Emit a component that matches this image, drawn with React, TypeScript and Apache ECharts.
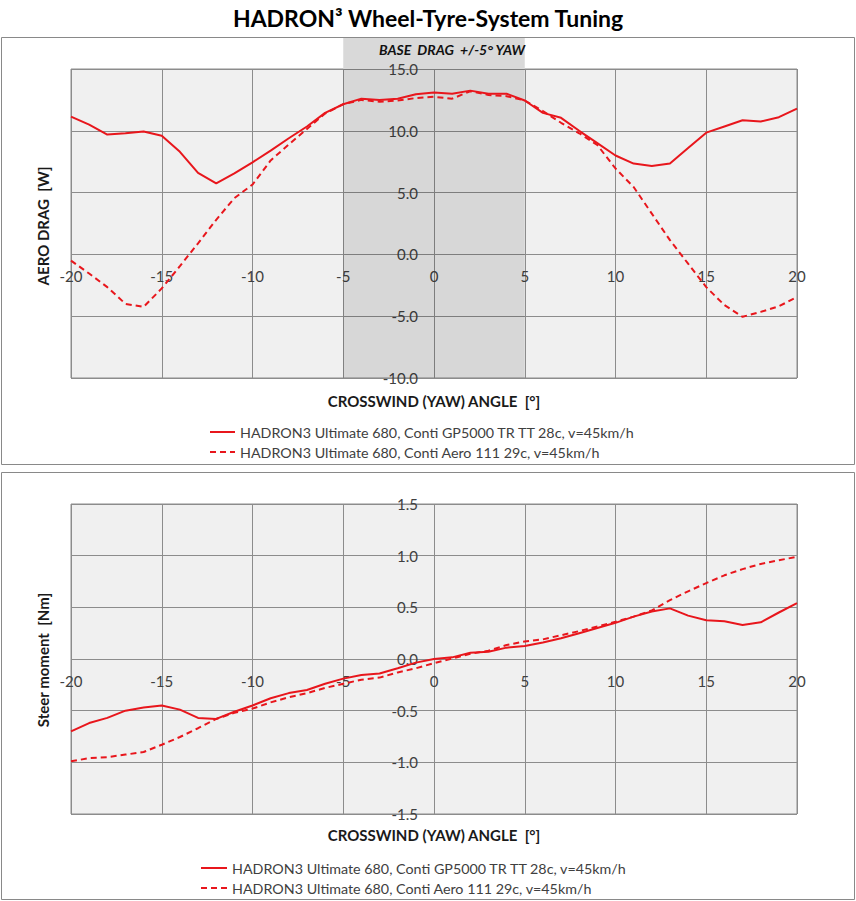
import React, { useEffect, useRef } from "react";
import * as echarts from "echarts";

const yawAngles = [
  -20, -19, -18, -17, -16, -15, -14, -13, -12, -11, -10, -9, -8, -7, -6, -5, -4, -3, -2, -1, 0,
  1, 2, 3, 4, 5, 6, 7, 8, 9, 10, 11, 12, 13, 14, 15, 16, 17, 18, 19, 20,
];

const seriesNames = [
  "HADRON3 Ultimate 680, Conti GP5000 TR TT 28c, v=45km/h",
  "HADRON3 Ultimate 680, Conti Aero 111 29c, v=45km/h",
];

const dragGP5000 = [
  11.15, 10.5, 9.7, 9.8, 9.95, 9.6, 8.3, 6.6, 5.75, 6.55, 7.45, 8.4, 9.4, 10.35, 11.45, 12.15,
  12.6, 12.5, 12.6, 12.95, 13.1, 13.0, 13.25, 13.0, 13.0, 12.45, 11.45, 11.05, 10.0, 9.0, 8.0,
  7.35, 7.15, 7.35, 8.6, 9.85, 10.35, 10.85, 10.75, 11.1, 11.8,
];

const dragAero111 = [
  -0.5, -1.55, -2.65, -4.0, -4.25, -2.75, -0.95, 0.9, 2.8, 4.55, 5.65, 7.6, 8.9, 10.15, 11.4,
  12.15, 12.5, 12.35, 12.45, 12.65, 12.75, 12.6, 13.2, 12.9, 12.8, 12.45, 11.6, 10.65, 9.8, 8.85,
  6.95, 5.45, 3.3, 1.15, -0.75, -2.65, -4.1, -5.05, -4.65, -4.2, -3.45,
];

const steerGP5000 = [
  -0.7, -0.62, -0.57, -0.5, -0.47, -0.45, -0.49, -0.57, -0.58, -0.51, -0.45, -0.38, -0.33, -0.3,
  -0.24, -0.19, -0.155, -0.14, -0.09, -0.035, 0.0, 0.016, 0.06, 0.07, 0.11, 0.125, 0.16, 0.2,
  0.25, 0.3, 0.35, 0.41, 0.46, 0.49, 0.42, 0.375, 0.365, 0.33, 0.355, 0.45, 0.54,
];

const steerAero111 = [
  -0.99, -0.96, -0.95, -0.925, -0.9, -0.83, -0.755, -0.67, -0.58, -0.52, -0.48, -0.42, -0.37,
  -0.33, -0.28, -0.24, -0.2, -0.18, -0.13, -0.09, -0.04, 0.005, 0.05, 0.08, 0.135, 0.17, 0.19,
  0.23, 0.27, 0.315, 0.36, 0.41, 0.47, 0.57, 0.655, 0.735, 0.81, 0.87, 0.92, 0.955, 0.99,
];

const yawAxis = { min: -20, max: 20, interval: 5 };
const dragAxis = { min: -10, max: 15, interval: 5 };
const steerAxis = { min: -1.5, max: 1.5, interval: 0.5 };
const baseBand = [-5, 5];

const FONT = 'Lato, "Noto Sans", sans-serif';
const RED = "#e8161c";
const GRIDLINE = "#8c8c8c";

const pair = (ys: number[]) => yawAngles.map((x, i) => [x, ys[i]]);

export default function App() {
  const ref = useRef<HTMLDivElement>(null);

  useEffect(() => {
    document.body.style.margin = "0";
    const chart = echarts.init(ref.current!, null, { renderer: "svg" });

    const xAxisBase = (gridIndex: number) => ({
      type: "value",
      gridIndex,
      position: "bottom",
      min: yawAxis.min,
      max: yawAxis.max,
      interval: yawAxis.interval,
      axisLine: { show: false, onZero: false },
      axisTick: { show: false },
      axisLabel: { margin: 14, fontSize: 15, color: "#404040", fontFamily: FONT },
      splitLine: { show: true, lineStyle: { color: GRIDLINE, width: 1 } },
    });

    const yAxisBase = (gridIndex: number, ax: any) => ({
      type: "value",
      gridIndex,
      position: "left",
      min: ax.min,
      max: ax.max,
      interval: ax.interval,
      axisLine: { show: false, onZero: false },
      axisTick: { show: false },
      axisLabel: {
        margin: 16,
        fontSize: 15,
        color: "#404040",
        fontFamily: FONT,
        formatter: (v: number) => v.toFixed(1),
      },
      splitLine: { show: true, lineStyle: { color: GRIDLINE, width: 1 } },
    });

    const lineSeries = (name: string, data: number[], idx: number, dashed: boolean, extra: any = {}) => ({
      type: "line",
      name,
      xAxisIndex: idx,
      yAxisIndex: idx,
      data: pair(data),
      symbol: "none",
      showSymbol: false,
      lineStyle: { color: RED, width: 2, type: dashed ? [6, 4] : "solid" },
      itemStyle: { color: RED },
      z: 3,
      ...extra,
    });

    const legendBase = (left: number, top: number, itemWidth: number) => ({
      orient: "vertical",
      left,
      top,
      padding: 0,
      itemWidth,
      itemHeight: 14,
      itemGap: 6,
      data: seriesNames,
      itemStyle: { opacity: 0 },
      textStyle: { fontSize: 14.3, color: "#404040", fontFamily: FONT },
      selectedMode: false,
    });

    const baseOption: any = {
      animation: false,
      backgroundColor: "#ffffff",
      title: {
        text: "HADRON³ Wheel-Tyre-System Tuning",
        left: "center",
        top: 1,
        textStyle: { fontSize: 23, fontWeight: "bold", color: "#000", fontFamily: FONT },
      },
      grid: [
        {
          left: 71, top: 69, width: 726, height: 309, show: true,
          backgroundColor: "#f0f0f0", borderColor: GRIDLINE, borderWidth: 1,
        },
        {
          left: 71, top: 504, width: 726, height: 310, show: true,
          backgroundColor: "#f0f0f0", borderColor: GRIDLINE, borderWidth: 1,
        },
      ],
      xAxis: [xAxisBase(0), xAxisBase(1)],
      yAxis: [yAxisBase(0, dragAxis), yAxisBase(1, steerAxis)],
      legend: [legendBase(209, 425, 25), legendBase(200, 861, 26)],
      series: [
        lineSeries(seriesNames[0], dragGP5000, 0, false, {
          markArea: {
            silent: true,
            itemStyle: { color: "rgba(0,0,0,0.1)" },
            data: [[{ xAxis: baseBand[0] }, { xAxis: baseBand[1] }]],
          },
        }),
        lineSeries(seriesNames[1], dragAero111, 0, true),
        lineSeries(seriesNames[0], steerGP5000, 1, false),
        lineSeries(seriesNames[1], steerAero111, 1, true),
      ],
    };

    chart.setOption(baseOption);

    // Move axes so they cross at zero (x axis on y=0, y axis on x=0)
    const px = (axisIndex: number, v: number) =>
      chart.convertToPixel({ xAxisIndex: axisIndex }, v) as number;
    const py = (axisIndex: number, v: number) =>
      chart.convertToPixel({ yAxisIndex: axisIndex }, v) as number;

    const xOffsets = [0, 1].map((i) => {
      const ax = i === 0 ? dragAxis : steerAxis;
      return py(i, 0) - py(i, ax.min);
    });
    const yOffsets = [0, 1].map((i) => -(px(i, 0) - px(i, yawAxis.min)));

    const bandL = px(0, baseBand[0]);
    const bandR = px(0, baseBand[1]);
    const plotTop = py(0, dragAxis.max);
    const panelTop = 37;

    const nameStyle = {
      fontSize: 15, fontWeight: "bold", fontFamily: FONT, fill: "#1a1a1a",
      align: "center", verticalAlign: "middle",
    };

    chart.setOption({
      xAxis: [{ offset: xOffsets[0] }, { offset: xOffsets[1] }],
      yAxis: [{ offset: yOffsets[0] }, { offset: yOffsets[1] }],
      graphic: [
        {
          type: "rect",
          shape: { x: 1.5, y: 37.5, width: 853, height: 427 },
          style: { fill: "none", stroke: "#898989", lineWidth: 1 },
          silent: true,
        },
        {
          type: "rect",
          shape: { x: 1.5, y: 472.5, width: 853, height: 427 },
          style: { fill: "none", stroke: "#898989", lineWidth: 1 },
          silent: true,
        },
        {
          type: "rect",
          shape: { x: bandL, y: panelTop + 1, width: bandR - bandL, height: plotTop - panelTop - 1 },
          style: { fill: "#d9d9d9" },
          silent: true,
        },
        {
          type: "text",
          x: (bandL + bandR) / 2 + 18,
          y: 49,
          style: {
            text: "BASE  DRAG  +/-5° YAW",
            fontSize: 14,
            fontWeight: "bold",
            fontStyle: "italic",
            fontFamily: FONT,
            fill: "#111",
            align: "center",
            verticalAlign: "middle",
          },
          silent: true,
        },
        {
          type: "text", x: 434, y: 401,
          style: { text: "CROSSWIND (YAW) ANGLE  [°]", ...nameStyle },
          silent: true,
        },
        {
          type: "text", x: 434, y: 835,
          style: { text: "CROSSWIND (YAW) ANGLE  [°]", ...nameStyle },
          silent: true,
        },
        {
          type: "text", x: 43, y: 226, rotation: Math.PI / 2,
          style: { text: "AERO DRAG  [W]", ...nameStyle },
          silent: true,
        },
        {
          type: "text", x: 43, y: 660, rotation: Math.PI / 2,
          style: { text: "Steer moment  [Nm]", ...nameStyle },
          silent: true,
        },
      ],
    });

    return () => chart.dispose();
  }, []);

  return (
    <div
      ref={ref}
      style={{ position: "absolute", left: 0, top: 0, width: 856, height: 901 }}
    />
  );
}
